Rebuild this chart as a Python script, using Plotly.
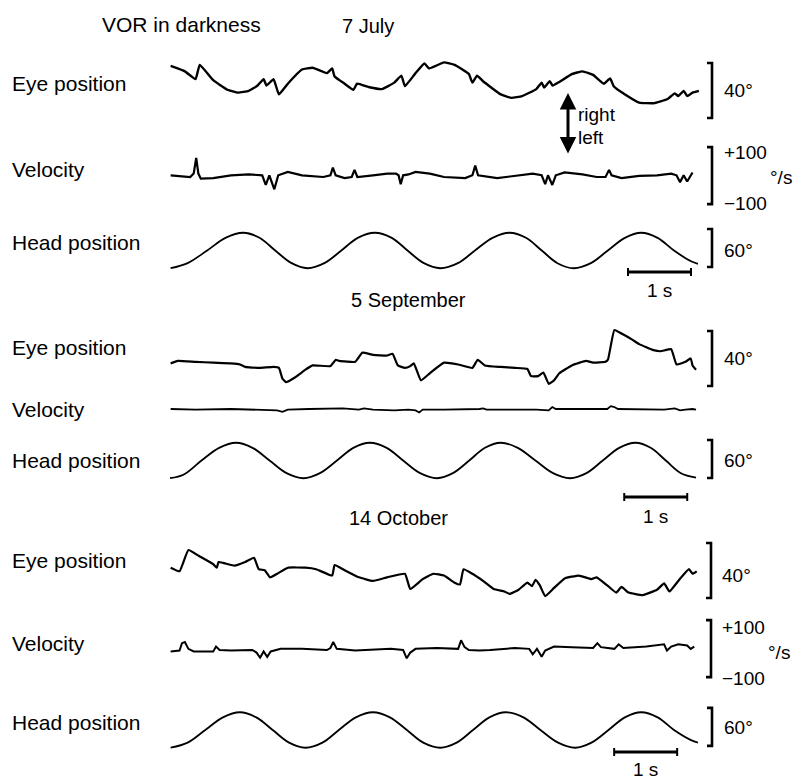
import plotly.graph_objects as go

# ---------------- DATA ----------------
# time in seconds, eye / head position in degrees (+ = right), eye velocity in deg/s
dates = ["7 July", "5 September", "14 October"]
row_labels = ["Eye position", "Velocity", "Head position"]

eye1_t = [0.01, 0.236, 0.405, 0.472, 0.686, 0.912, 1.081, 1.25, 1.391, 1.486, 1.532, 1.644, 1.729, 1.87,
          2.095, 2.264, 2.489, 2.574, 2.613, 2.771, 2.912, 2.969, 3.166, 3.363, 3.56, 3.673, 3.729, 3.898,
          4.039, 4.113, 4.349, 4.518, 4.744, 4.8, 4.873, 4.969, 5.251, 5.42, 5.589, 5.814, 5.899, 5.938,
          6.028, 6.073, 6.18, 6.378, 6.547, 6.716, 6.885, 6.986, 7.043, 7.223, 7.448, 7.674, 7.899, 8.012,
          8.068, 8.153, 8.209, 8.294, 8.395]
eye1_deg = [10.2, 6.3, 0.6, 11.0, -0.1, -7.1, -9.2, -7.9, -4.0, 0.6, -4.0, 0.6, -10.5, -2.7,
            7.6, 8.9, 5.0, 8.4, 2.5, -2.7, -7.1, -2.7, -5.3, -6.6, -1.9, 3.2, -4.5, 5.0,
            12.0, 8.4, 12.8, 11.0, 4.3, -1.9, 3.2, -0.9, -10.5, -13.0, -11.7, -6.6, -1.9, -5.5,
            -0.9, -4.0, -1.4, 4.3, 6.3, 3.7, -2.7, 1.2, -4.5, -10.5, -16.4, -16.9, -13.8, -9.7,
            -11.7, -7.9, -11.7, -9.2, -7.9]

vel1_t = [0.01, 0.32, 0.376, 0.416, 0.45, 0.489, 0.686, 0.968, 1.25, 1.464, 1.52, 1.577, 1.656, 1.718,
          1.87, 1.982, 2.095, 2.433, 2.546, 2.585, 2.63, 2.771, 2.884, 2.929, 2.974, 3.222, 3.448, 3.588,
          3.628, 3.662, 3.701, 3.786, 3.898, 4.124, 4.349, 4.687, 4.8, 4.845, 4.89, 5.194, 5.476, 5.758,
          5.899, 5.955, 6.0, 6.068, 6.124, 6.265, 6.547, 6.772, 6.913, 6.969, 7.009, 7.167, 7.448, 7.73,
          7.956, 8.04, 8.096, 8.153, 8.209, 8.294]
vel1_dps = [6, 0, 12, 67, 12, -6, -4, 6, 9, 6, -28, 6, -43, 6,
            18, 12, 6, 0, 6, 33, 6, -4, 0, 25, 0, 6, 12, 12,
            6, -25, 6, 9, 18, 12, 0, -4, 6, 40, 6, -4, 4, 12,
            6, -25, 6, -28, 6, 16, 9, 0, 0, 25, 6, -4, 4, 6,
            12, 6, -18, 6, -16, 16]

head1_t = [0.01, 0.28, 0.59, 0.88, 1.165, 1.42, 1.67, 1.93, 2.18, 2.45, 2.72, 2.98, 3.25, 3.52, 3.77,
           4.03, 4.29, 4.57, 4.84, 5.12, 5.39, 5.65, 5.9, 6.15, 6.41, 6.68, 6.95, 7.22, 7.48, 7.74,
           8.0, 8.27, 8.38]
head1_deg = [-28, -20, 0, 20, 28, 20, 0, -20, -28, -20, 0, 20, 28, 20, 0,
             -20, -28, -20, 0, 20, 28, 20, 0, -20, -28, -20, 0, 20, 28, 20,
             0, -17, -21]

eye2_t = [0.01, 0.123, 0.405, 0.686, 0.968, 1.109, 1.193, 1.419, 1.644, 1.729, 1.785, 1.841, 1.982,
          2.151, 2.264, 2.546, 2.63, 2.687, 2.94, 3.053, 3.222, 3.448, 3.532, 3.617, 3.729, 3.814, 3.87,
          3.983, 4.124, 4.349, 4.574, 4.8, 4.884, 4.997, 5.251, 5.476, 5.673, 5.73, 5.842, 5.927, 6.011,
          6.096, 6.18, 6.378, 6.603, 6.716, 6.913, 6.953, 7.054, 7.167, 7.336, 7.448, 7.674, 7.786,
          7.956, 8.04, 8.181, 8.265, 8.294, 8.35]
eye2_deg = [-3.9, -2.1, -2.8, -3.4, -3.9, -4.7, -6.5, -7.2, -6.5, -7.2, -15.0, -17.6, -14.2,
            -8.5, -5.4, -5.9, -1.3, -2.1, -2.8, 3.9, 2.3, 1.8, 3.1, -5.4, -7.2, -5.9, -3.9,
            -16.3, -11.1, -3.4, -4.7, -7.2, -1.3, -5.4, -6.5, -7.2, -8.0, -13.2, -13.2, -10.6, -18.8,
            -16.3, -11.1, -5.4, -2.1, -3.4, -2.8, -1.0, 20.4, 17.8, 13.4, 10.1, 5.7, 4.9,
            6.4, -4.7, -2.8, -0.3, -5.4, -8.5]

vel2_t = [0.01, 0.405, 0.968, 1.419, 1.701, 1.785, 1.87, 2.208, 2.659, 2.743, 2.997, 3.081, 3.222,
          3.56, 3.786, 3.898, 3.955, 4.011, 4.349, 4.687, 4.913, 4.969, 5.025, 5.476, 5.814, 6.011,
          6.068, 6.124, 6.603, 6.941, 6.997, 7.054, 7.11, 7.448, 7.843, 8.012, 8.096, 8.181, 8.294, 8.35]
vel2_dps = [0, -2, 0, -2, -5, -10, -2, 0, 0, 2, -2, 2, -2,
            -5, -2, -5, -12, -2, -2, -2, 0, 2, -2, -2, -2, -5,
            7, 0, 0, 0, 10, 7, 0, -2, -2, 2, -5, -2, 0, -2]

head2_t = [0.0, 0.22, 0.5, 0.78, 1.05, 1.31, 1.58, 1.85, 2.12, 2.38, 2.65, 2.91, 3.17, 3.44, 3.7,
           3.97, 4.24, 4.49, 4.75, 5.0, 5.25, 5.52, 5.8, 6.08, 6.35, 6.61, 6.87, 7.13, 7.39, 7.63,
           7.87, 8.11, 8.35]
head2_deg = [-28, -22, 0, 20, 28, 20, 0, -20, -28, -20, 0, 20, 28, 20, 0,
             -20, -28, -20, 0, 20, 28, 20, 0, -20, -28, -20, 0, 20, 28, 20,
             0, -20, -27]

eye3_t = [0.01, 0.151, 0.292, 0.461, 0.686, 0.743, 0.771, 1.024, 1.193, 1.334, 1.408, 1.503, 1.588,
          1.701, 1.87, 2.151, 2.32, 2.574, 2.613, 2.771, 2.997, 3.222, 3.448, 3.729, 3.814, 4.011, 4.18,
          4.349, 4.518, 4.603, 4.659, 4.8, 4.969, 5.138, 5.307, 5.392, 5.533, 5.673, 5.747, 5.803, 5.871,
          5.955, 6.096, 6.265, 6.49, 6.688, 6.772, 6.941, 7.082, 7.167, 7.279, 7.505, 7.73, 7.843, 7.927,
          8.068, 8.237, 8.294, 8.361]
eye3_deg = [5.3, 2.7, 18.2, 13.8, 7.9, 5.3, 9.4, 6.8, 9.4, 12.5, 4.2, 3.5, -1.7,
            0.9, 5.3, 5.3, 4.2, -0.4, 7.3, 3.5, -1.7, -4.3, -1.7, 0.9, -10.2, -3.0, 0.9,
            -0.4, -5.6, -6.9, 4.2, 0.9, -4.3, -10.2, -12.0, -13.8, -10.7, -5.6, -8.1, -3.5, -7.6,
            -15.4, -9.4, -2.5, -0.4, -3.0, -1.7, -7.6, -12.8, -8.7, -12.8, -14.6, -10.7, -6.1, -12.0,
            -4.3, 4.2, 0.9, 2.7]

vel3_t = [0.01, 0.151, 0.19, 0.236, 0.292, 0.376, 0.686, 0.731, 0.788, 0.968, 1.306, 1.374, 1.43,
          1.486, 1.543, 1.599, 1.757, 2.095, 2.489, 2.546, 2.591, 2.647, 2.94, 3.504, 3.701, 3.757,
          3.814, 3.898, 4.236, 4.574, 4.62, 4.676, 4.744, 4.913, 5.082, 5.251, 5.476, 5.702, 5.758,
          5.825, 5.899, 5.955, 6.096, 6.378, 6.716, 6.784, 6.84, 7.054, 7.122, 7.195, 7.561, 7.843,
          7.888, 7.956, 8.068, 8.209, 8.265, 8.322]
vel3_dps = [-5, -2, 24, 28, 4, -5, -5, 12, 0, -2, 0, -9, -27,
            -5, -24, -5, 4, 4, 0, 7, 28, 4, -2, 4, 0, -29,
            -9, 4, 7, 4, 34, 10, 0, -2, 0, 4, 7, 4, -15,
            4, -24, -2, 12, 10, 7, 24, 10, 4, 20, 7, 12, 20,
            -2, 12, 20, 16, 4, 12]

head3_t = [0.01, 0.28, 0.56, 0.84, 1.11, 1.37, 1.63, 1.89, 2.15, 2.42, 2.68, 2.95, 3.22, 3.49, 3.76,
           4.02, 4.29, 4.55, 4.81, 5.07, 5.33, 5.61, 5.88, 6.16, 6.43, 6.69, 6.96, 7.22, 7.48, 7.74,
           8.0, 8.27, 8.38]
head3_deg = [-28, -20, 0, 20, 28, 20, 0, -20, -28, -20, 0, 20, 28, 20, 0,
             -20, -28, -20, 0, 20, 28, 20, 0, -20, -28, -20, 0, 20, 28, 20,
             0, -16, -20]

# ---------------- LAYOUT HELPERS ----------------
W, H = 795, 781
FONT = "Liberation Sans, Arial, Helvetica, sans-serif"
T0_PX = 170.0      # pixel where t = 0
PX_PER_S = 63.0    # horizontal scale


def px(x):
    return x / W


def py(y):
    return 1 - y / H


EYE_S = 40 / 55.0     # deg per pixel
VEL_S = 200 / 57.0    # deg/s per pixel
HEAD_S = 60 / 38.0    # deg per pixel
HALF = 45             # half height of each strip (px)

# axis id, zero-level pixel row, units per pixel
strips = [
    ("y", 80, EYE_S), ("y2", 177, VEL_S), ("y3", 250.5, HEAD_S),
    ("y4", 358, EYE_S), ("y5", 409, VEL_S), ("y6", 460.5, HEAD_S),
    ("y7", 575, EYE_S), ("y8", 650, VEL_S), ("y9", 730, HEAD_S),
]

series = [
    (eye1_t, eye1_deg, 2.4, "spline"), (vel1_t, vel1_dps, 2.2, "linear"), (head1_t, head1_deg, 1.8, "spline"),
    (eye2_t, eye2_deg, 2.2, "spline"), (vel2_t, vel2_dps, 1.8, "linear"), (head2_t, head2_deg, 1.8, "spline"),
    (eye3_t, eye3_deg, 2.2, "spline"), (vel3_t, vel3_dps, 2.0, "linear"), (head3_t, head3_deg, 1.8, "spline"),
]

fig = go.Figure()
layout_axes = {}
for (ax, zero_px, s), (t, v, lw, shp) in zip(strips, series):
    sm = 1.0 if ax in ("y3", "y6", "y9") else 0.35
    fig.add_trace(go.Scatter(x=t, y=v, mode="lines", xaxis="x", yaxis=ax,
                             line=dict(color="black", width=lw, shape=shp, smoothing=sm),
                             hoverinfo="skip"))
    key = "yaxis" if ax == "y" else "yaxis" + ax[1:]
    layout_axes[key] = dict(domain=[py(zero_px + HALF), py(zero_px - HALF)],
                            range=[-HALF * s, HALF * s], visible=False, fixedrange=True)

layout_axes["xaxis"] = dict(domain=[0, 1], range=[-T0_PX / PX_PER_S, (W - T0_PX) / PX_PER_S],
                            visible=False, fixedrange=True)

shapes = []
# vertical calibration brackets: (axis, bottom value, span, x pixel)
brackets = [("y", -27.6, 40, 712), ("y2", -95, 200, 712), ("y3", -26, 60, 712),
            ("y4", -20.4, 40, 712), ("y6", -27.6, 60, 712),
            ("y7", -16.7, 40, 711), ("y8", -95, 200, 711), ("y9", -25, 60, 712)]
for ax, b, span, xp in brackets:
    x1 = px(xp)
    x0 = px(xp - 5)
    shapes.append(dict(type="path", xref="paper", yref=ax,
                       path=f"M {x0},{b} L {x1},{b} L {x1},{b + span} L {x0},{b + span}",
                       line=dict(color="black", width=2.6)))

# 1 s time bars: (start time, y pixel)
time_bars = [(7.27, 272), (7.21, 497), (7.05, 752)]
for t0, yp in time_bars:
    shapes.append(dict(type="line", xref="x", yref="paper", x0=t0, x1=t0 + 1, y0=py(yp), y1=py(yp),
                       line=dict(color="black", width=3)))
    for tt in (t0, t0 + 1):
        shapes.append(dict(type="line", xref="x", yref="paper", x0=tt, x1=tt, y0=py(yp - 4), y1=py(yp + 4),
                           line=dict(color="black", width=2)))

ann = []


def text(s, x, y, size=21, anchor="left"):
    ann.append(dict(text=s, x=px(x), y=py(y), xref="paper", yref="paper", showarrow=False,
                    xanchor=anchor, yanchor="middle", font=dict(family=FONT, size=size, color="black")))


text("VOR in darkness", 181, 24, anchor="center")
text(dates[0], 368, 26, anchor="center", size=20)
text(dates[1], 408, 300, anchor="center", size=20)
text(dates[2], 398, 518, anchor="center", size=20)

label_rows = [83, 170, 243, 347, 410, 460, 560, 643, 722]
for i, yl in enumerate(label_rows):
    text(row_labels[i % 3], 10, yl)

for s, x, y in [("40°", 722, 90), ("+100", 722, 152), ("\u2212100", 722, 203), ("°/s", 768, 178),
                ("60°", 722, 251), ("40°", 722, 358), ("60°", 722, 460), ("40°", 720, 575),
                ("+100", 720, 627), ("\u2212100", 720, 678), ("°/s", 766, 652), ("60°", 722, 727)]:
    text(s, x, y, size=19)

for (t0, yp), yl in zip(time_bars, [290, 516, 769]):
    ann.append(dict(text="1 s", x=t0 + 0.5, y=py(yl), xref="x", yref="paper", showarrow=False,
                    xanchor="center", yanchor="middle", font=dict(family=FONT, size=19, color="black")))

text("right", 576, 114, size=19)
text("left", 576, 137, size=19)
# double-headed direction arrow
ann.append(dict(text="", x=px(568), y=py(93), xref="paper", yref="paper", ax=0, ay=62,
                showarrow=True, arrowside="end+start", arrowhead=2, arrowsize=1.1, arrowwidth=3,
                arrowcolor="black"))

fig.update_layout(width=W, height=H, margin=dict(l=0, r=0, t=0, b=0), paper_bgcolor="white",
                  plot_bgcolor="rgba(0,0,0,0)", showlegend=False, shapes=shapes, annotations=ann,
                  **layout_axes)

fig.write_html("out.html", config={"displayModeBar": False})

# remove the browser's default page margin so the figure fills the window exactly
with open("out.html", "r", encoding="utf-8") as f:
    html = f.read()
html = html.replace("<head>", "<head><style>html,body{margin:0;padding:0;overflow:hidden;}</style>", 1)
with open("out.html", "w", encoding="utf-8") as f:
    f.write(html)
